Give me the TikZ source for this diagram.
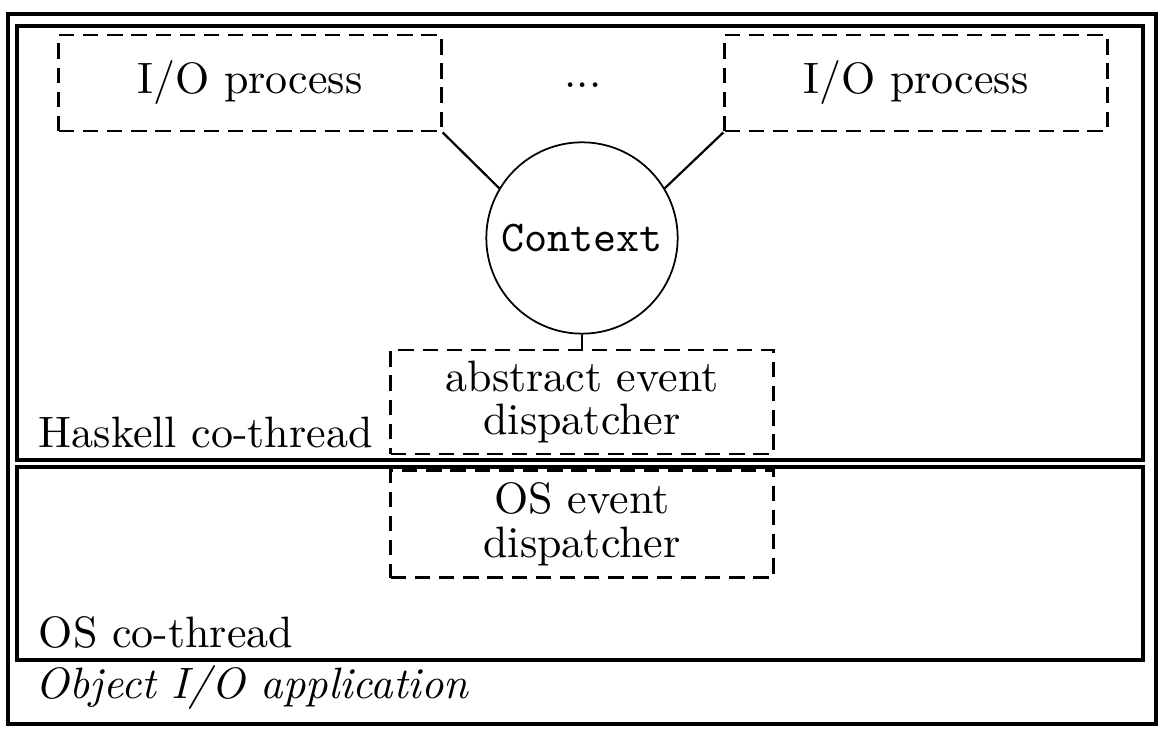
\documentclass[tikz,border=0pt]{standalone}
\usepackage{amsmath, amssymb}
\usetikzlibrary{positioning}
\begin{document}
\begin{tikzpicture}[x=0.008cm, y=-0.008cm,
	frame/.style={line width=0.7pt},
	procbox/.style={draw, line width=0.6pt, dash pattern=on 3.5pt off 2pt,
		minimum width=3.06cm, minimum height=0.77cm, inner sep=0pt},
	dispbox/.style={procbox, minimum height=0.83cm, align=center,
		execute at begin node={\baselineskip=10pt}},
	lbl/.style={anchor=base west, inner sep=0pt}]

	\useasboundingbox (0,0) rectangle (1174,738);

	% application and its two co-threads
	\draw[frame] (8,14) rectangle (1156,724);
	\draw[frame] (17,26) rectangle (1143,460);
	\draw[frame] (17,467) rectangle (1143,660);

	\node[procbox] (io1) at (250,83) {I/O process};
	\node[procbox] (io2) at (916,83) {I/O process};
	\node[anchor=base] (dots) at (583,88) {...};

	\node[draw, circle, line width=0.4pt, minimum size=1.53cm, inner sep=0pt,
		font=\ttfamily] (ctx) at (582,238) {Context};

	\node[dispbox] (aed) at (582,402) {abstract event\\dispatcher};
	\node[dispbox, minimum height=0.86cm] (osd) at (582,524) {OS event\\dispatcher};

	\draw[line width=0.5pt] (io1.south east) -- (ctx.149);
	\draw[line width=0.5pt] (io2.south west) -- (ctx.31);
	\draw[line width=0.5pt] (ctx.south) -- (aed.north);

	\node[lbl] (hlab) at (38,448) {Haskell co-thread};
	\node[lbl] (oslab) at (38,648) {OS co-thread};
	\node[lbl] (applab) at (35,699) {\textit{Object I/O application}};
    \end{tikzpicture}
\end{document}
